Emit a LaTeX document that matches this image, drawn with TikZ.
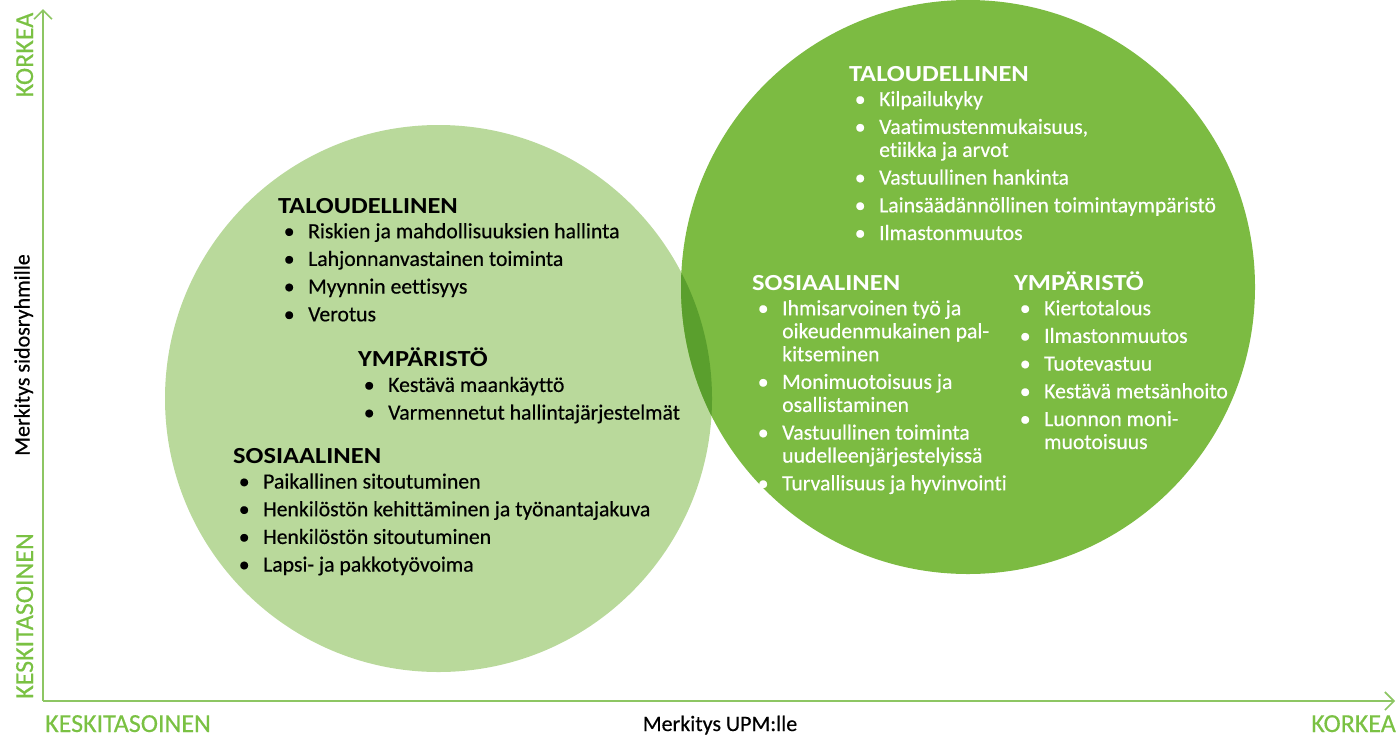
\documentclass[tikz,border=0pt]{standalone}
\usepackage{fontspec}
\setmainfont{Carlito}[Ligatures=NoCommon, FakeBold=0.4]
\newfontfamily\headfont{Carlito}[Ligatures=NoCommon, FakeStretch=1.15]
\usepackage{xcolor}
\usepackage{tikz}
\usetikzlibrary{positioning}
\usetikzlibrary{arrows.meta}

\definecolor{upmGreen}{RGB}{122,193,67}
\definecolor{axisGreen}{RGB}{141,198,99}
\definecolor{lightCircle}{RGB}{185,217,155}
\definecolor{darkCircle}{RGB}{124,187,66}
\definecolor{overlapGreen}{RGB}{90,159,45}

\newcommand{\topicHead}[1]{{\headfont\bfseries\fontsize{23}{23}\selectfont\rule{0pt}{22pt}#1}}
\newcommand{\topicItem}[1]{\makebox[22pt][c]{\textbullet}\hspace*{8pt}#1}
\newcommand{\topicCont}[1]{\hspace*{30pt}#1}

\tikzset{
	axisLine/.style={draw=axisGreen, line width=1.6pt},
	axisLabel/.style={text=upmGreen, inner sep=0pt, font=\fontsize{26}{26}\selectfont},
	axisTitle/.style={inner sep=0pt, font=\fontsize{22}{22}\selectfont},
	topicBlock/.style={align=left, inner sep=0pt, anchor=north west, font=\fontsize{21.7}{23}\selectfont}
}

\begin{document}
\begin{tikzpicture}[x=1pt, y=-1pt]
	
	\useasboundingbox (0,0) rectangle (1396,737);
	
	\coordinate (leftCenter) at (438.5,398.5);
	\coordinate (rightCenter) at (968,287);
	
	\fill[lightCircle] (leftCenter) circle[radius=273.5pt];
	\fill[darkCircle] (rightCenter) circle[radius=287pt];
	\begin{scope}
		\clip (leftCenter) circle[radius=273.5pt];
		\fill[overlapGreen] (rightCenter) circle[radius=287pt];
	\end{scope}
	
	\coordinate (origin) at (43,701);
	\coordinate (yEnd) at (43,9);
	\coordinate (xEnd) at (1395,701);
	
	\draw[axisLine, -{Straight Barb[length=9pt, width=18pt]}] (origin) -- (yEnd);
	\draw[axisLine, -{Straight Barb[length=9pt, width=18pt]}] (origin) -- (xEnd);
	
	\node[
		axisLabel,
		rotate=90,
		anchor=base west
	] (yHigh) at (33,97.5) {KORKEA};
	
	\node[
		axisLabel,
		rotate=90,
		anchor=base west
	] (yMid) at (33,699) {KESKITASOINEN};
	
	\node[
		axisTitle,
		rotate=90,
		anchor=base
	] (yTitle) at (29.5,355) {Merkitys sidosryhmille};
	
	\node[
		axisLabel,
		anchor=base west
	] (xMid) at (45,732) {KESKITASOINEN};
	
	\node[
		axisLabel,
		anchor=base east
	] (xHigh) at (1396,732) {KORKEA};
	
	\node[
		axisTitle,
		anchor=base
	] (xTitle) at (720,731) {Merkitys UPM:lle};
	
	\node[topicBlock] (leftEconomic) at (278,191) {
		\topicHead{TALOUDELLINEN}\\[2pt]
		\topicItem{Riskien ja mahdollisuuksien hallinta}\\[4.7pt]
		\topicItem{Lahjonnanvastainen toiminta}\\[4.7pt]
		\topicItem{Myynnin eettisyys}\\[4.7pt]
		\topicItem{Verotus}
	};
	
	\node[topicBlock] (leftEnvironment) at (358,344.7) {
		\topicHead{YMPÄRISTÖ}\\[2pt]
		\topicItem{Kestävä maankäyttö}\\[4.7pt]
		\topicItem{Varmennetut hallintajärjestelmät}
	};
	
	\node[topicBlock] (leftSocial) at (233,441.3) {
		\topicHead{SOSIAALINEN}\\[2pt]
		\topicItem{Paikallinen sitoutuminen}\\[4.7pt]
		\topicItem{Henkilöstön kehittäminen ja työnantajakuva}\\[4.7pt]
		\topicItem{Henkilöstön sitoutuminen}\\[4.7pt]
		\topicItem{Lapsi- ja pakkotyövoima}
	};
	
	\node[topicBlock, text=white] (rightEconomic) at (849,59) {
		\topicHead{TALOUDELLINEN}\\[2pt]
		\topicItem{Kilpailukyky}\\[4.7pt]
		\topicItem{Vaatimustenmukaisuus,}\\
		\topicCont{etiikka ja arvot}\\[4.7pt]
		\topicItem{Vastuullinen hankinta}\\[4.7pt]
		\topicItem{Lainsäädännöllinen toimintaympäristö}\\[4.7pt]
		\topicItem{Ilmastonmuutos}
	};
	
	\node[topicBlock, text=white] (rightSocial) at (752,268) {
		\topicHead{SOSIAALINEN}\\[2pt]
		\topicItem{Ihmisarvoinen työ ja}\\
		\topicCont{oikeudenmukainen pal-}\\
		\topicCont{kitseminen}\\[4.7pt]
		\topicItem{Monimuotoisuus ja}\\
		\topicCont{osallistaminen}\\[4.7pt]
		\topicItem{Vastuullinen toiminta}\\
		\topicCont{uudelleenjärjestelyissä}\\[4.7pt]
		\topicItem{Turvallisuus ja hyvinvointi}
	};
	
	\node[topicBlock, text=white] (rightEnvironment) at (1014,268) {
		\topicHead{YMPÄRISTÖ}\\[2pt]
		\topicItem{Kiertotalous}\\[4.7pt]
		\topicItem{Ilmastonmuutos}\\[4.7pt]
		\topicItem{Tuotevastuu}\\[4.7pt]
		\topicItem{Kestävä metsänhoito}\\[4.7pt]
		\topicItem{Luonnon moni-}\\
		\topicCont{muotoisuus}
	};
	
\end{tikzpicture}
\end{document}
